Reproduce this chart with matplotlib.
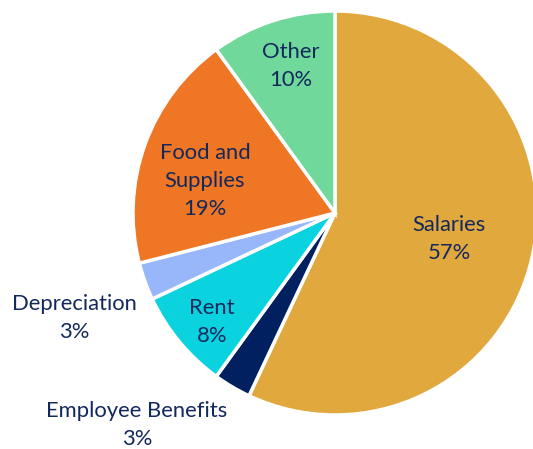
import matplotlib
matplotlib.use("Agg")
import matplotlib.pyplot as plt

# data
categories = ["Salaries", "Employee Benefits", "Rent", "Depreciation", "Food and\nSupplies", "Other"]
shares = [57, 3, 8, 3, 19, 10]
colors = ["#E1A83E", "#002060", "#0BD2DF", "#98B6FA", "#EE7624", "#70D89B"]

# label centres in pixel coords (x, y from top)
label_pos = [(449, 239), (137, 425), (212, 322), (74, 318), (205, 181), (291, 66)]

W, H = 533, 449
plt.rcParams['font.family'] = ['Lato', 'DejaVu Sans']

fig = plt.figure(figsize=(W / 100, H / 100), dpi=100)
ax = fig.add_axes([0, 0, 1, 1])

cx, cy, r = 335, H - 213, 202
ax.pie(shares, colors=colors, startangle=90, counterclock=False,
       center=(cx, cy), radius=r, frame=True,
       wedgeprops=dict(edgecolor='white', linewidth=2.5))
ax.set_xlim(0, W)
ax.set_ylim(0, H)
ax.set_aspect('equal')
ax.axis('off')

for name, val, (x, y) in zip(categories, shares, label_pos):
    ax.text(x, H - y, f"{name}\n{val}%", ha='center', va='center',
            fontsize=15.8, color='#13285C', linespacing=1.5)

plt.savefig('out.png', dpi=100)
